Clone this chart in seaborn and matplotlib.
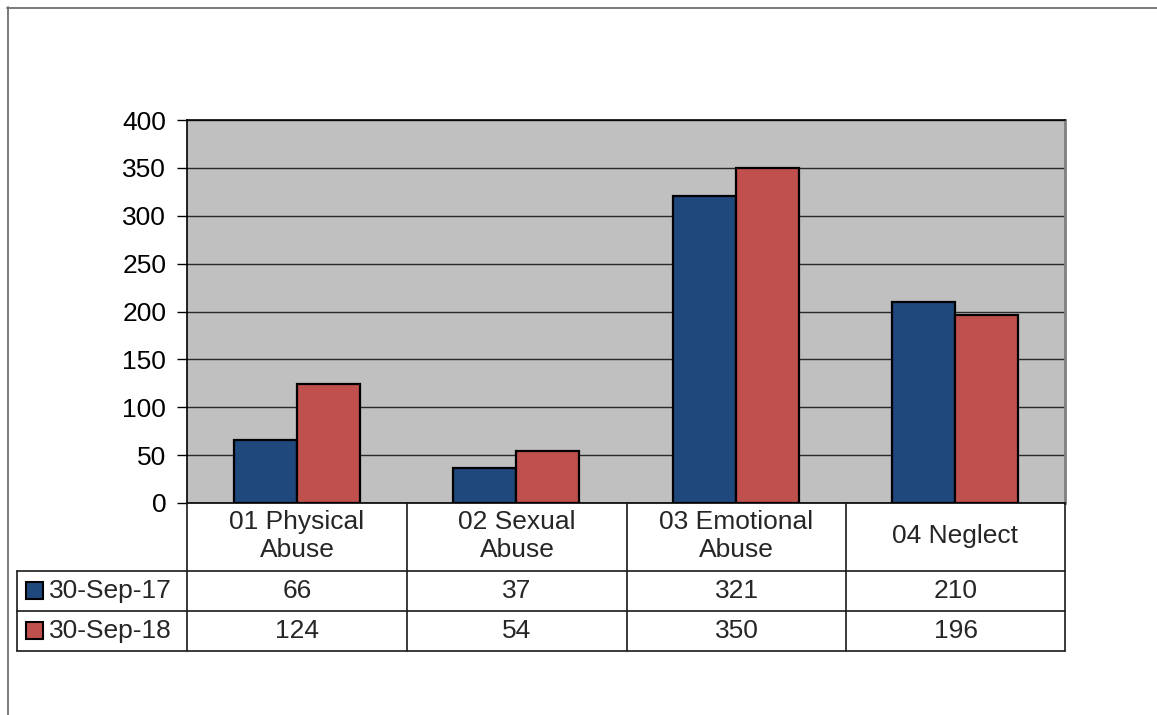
import matplotlib
matplotlib.use("Agg")
import matplotlib.pyplot as plt
from matplotlib.lines import Line2D
from matplotlib.patches import Rectangle
import seaborn as sns
import pandas as pd

categories = ["01 Physical\nAbuse", "02 Sexual\nAbuse", "03 Emotional\nAbuse", "04 Neglect"]
series_names = ["30-Sep-17", "30-Sep-18"]
values_2017 = [66, 37, 321, 210]
values_2018 = [124, 54, 350, 196]
y_ticks = [0, 50, 100, 150, 200, 250, 300, 350, 400]
colors = ["#1F497D", "#C0504D"]

sns.set_theme(style="white")
plt.rcParams["font.family"] = ["Liberation Sans", "DejaVu Sans"]

W, H = 1157, 715
fig = plt.figure(figsize=(W / 100, H / 100), dpi=100)
FS = 19


def fx(px):
    return px / W


def fy(py):
    return 1 - py / H


# plot area in pixel coordinates
L, R, T, B = 187, 1065, 120, 503
ax = fig.add_axes([fx(L), fy(B), fx(R) - fx(L), fy(T) - fy(B)])
ax.set_facecolor("#C0C0C0")

df = pd.DataFrame({
    "category": categories * 2,
    "series": [series_names[0]] * 4 + [series_names[1]] * 4,
    "value": values_2017 + values_2018,
})
sns.barplot(data=df, x="category", y="value", hue="series", hue_order=series_names,
            order=categories, palette=colors, width=0.575, edgecolor="black",
            linewidth=1.6, saturation=1, ax=ax, legend=False, zorder=3)

ax.set_ylim(0, 400)
ax.set_xlim(-0.5, 3.5)
ax.set_yticks(y_ticks)
ax.set_yticklabels([str(v) for v in y_ticks], fontsize=FS, color="black")
ax.set_xticks([])
ax.set_xlabel("")
ax.set_ylabel("")
ax.yaxis.grid(True, color="#2a2a2a", linewidth=1.0, zorder=0)
ax.set_axisbelow(True)
ax.tick_params(axis="y", which="major", left=True, length=7, width=1.0,
               color="black", pad=8, direction="out")
for side in ["left", "top", "bottom"]:
    ax.spines[side].set_color("black")
    ax.spines[side].set_linewidth(1.2)
ax.spines["right"].set_color("#808080")
ax.spines["right"].set_linewidth(2.0)

# data table under the plot area
col_edges = [187, 407, 627, 846, 1065]
row_edges = [503, 571, 611, 651]
legend_left = 17
lc = "#1a1a1a"
lw = 1.2


def hline(x0, x1, y):
    fig.add_artist(Line2D([fx(x0), fx(x1)], [fy(y), fy(y)], color=lc, linewidth=lw))


def vline(x, y0, y1):
    fig.add_artist(Line2D([fx(x), fx(x)], [fy(y0), fy(y1)], color=lc, linewidth=lw))


for y in row_edges[1:]:
    hline(legend_left, col_edges[-1], y)
for x in col_edges:
    vline(x, row_edges[0], row_edges[-1])
vline(legend_left, row_edges[1], row_edges[-1])

for i, cat in enumerate(categories):
    cx = (col_edges[i] + col_edges[i + 1]) / 2
    fig.text(fx(cx), fy((row_edges[0] + row_edges[1]) / 2 - 1), cat, ha="center",
             va="center", fontsize=FS, linespacing=1.25)

for r, (name, vals) in enumerate(zip(series_names, [values_2017, values_2018])):
    cy = (row_edges[r + 1] + row_edges[r + 2]) / 2
    fig.add_artist(Rectangle((fx(26), fy(cy + 8)), fx(17), fy(0) - fy(17),
                             facecolor=colors[r], edgecolor="black", linewidth=1.5))
    fig.text(fx(49), fy(cy), name, ha="left", va="center", fontsize=FS)
    for i, v in enumerate(vals):
        cx = (col_edges[i] + col_edges[i + 1]) / 2
        fig.text(fx(cx), fy(cy), str(v), ha="center", va="center", fontsize=FS)

# outer chart border
border = "#707070"
fig.add_artist(Line2D([fx(7.5), fx(7.5)], [fy(7), 0], color=border, linewidth=1.3))
fig.add_artist(Line2D([fx(7), 1], [fy(7.5), fy(7.5)], color=border, linewidth=1.3))

fig.savefig("out.png", dpi=100, facecolor="white")
